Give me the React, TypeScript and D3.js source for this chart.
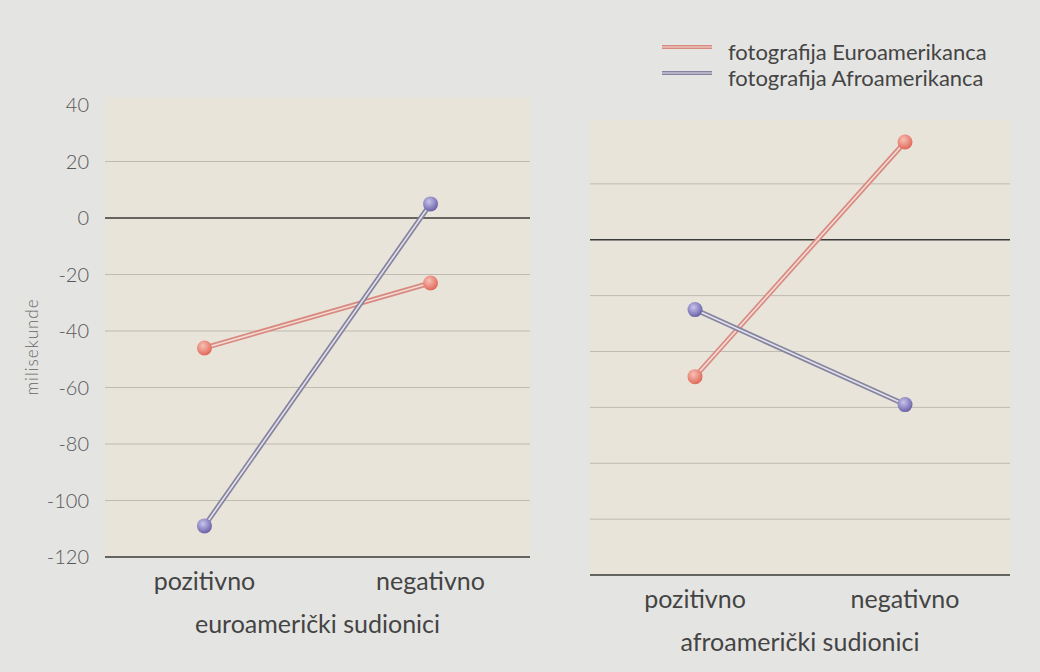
import * as d3 from "d3";

// Reakcijsko vrijeme (ms) po uvjetu
const categories = ["pozitivno", "negativno"];
const yTicks = [40, 20, 0, -20, -40, -60, -80, -100, -120];
const seriesNames = ["fotografija Euroamerikanca", "fotografija Afroamerikanca"];

// euroamerički sudionici
const euroEuroPhoto = [-46, -23];
const euroAfroPhoto = [-109, 5];
// afroamerički sudionici
const afroEuroPhoto = [-49, 35];
const afroAfroPhoto = [-25, -59];

const panelTitles = ["euroamerički sudionici", "afroamerički sudionici"];

const COLORS = {
  red: { outer: "#d88a80", inner: "#f3dcd6", ball: "#e0695a", light: "#f7c0b4" },
  blue: { outer: "#85839f", inner: "#e4e3ec", ball: "#6a62a6", light: "#c9c4ee" },
};

const FONT = "Lato, 'Open Sans', sans-serif";

type PanelProps = {
  x0: number;
  x1: number;
  yTop: number;
  yBottom: number;
  padding: number;
  red: number[];
  blue: number[];
  title: string;
  showAxis: boolean;
};

function Panel({ x0, x1, yTop, yBottom, padding, red, blue, title, showAxis }: PanelProps) {
  const x = d3.scalePoint<string>().domain(categories).range([x0, x1]).padding(padding);
  const y = d3.scaleLinear().domain([-120, 40]).range([yBottom, yTop]);
  const line = d3
    .line<number>()
    .x((_, i) => x(categories[i]) ?? 0)
    .y((d) => y(d));

  const series = [
    { vals: red, c: COLORS.red, g: "ball-red" },
    { vals: blue, c: COLORS.blue, g: "ball-blue" },
  ];

  return (
    <g>
      <rect x={x0} y={yTop - 8} width={x1 - x0} height={yBottom - yTop + 8} fill="#e9e4da" />
      {yTicks.map((t) => (
        <line
          key={t}
          x1={x0}
          x2={x1}
          y1={y(t)}
          y2={y(t)}
          stroke={t === 0 || t === -120 ? "#3a3a38" : t === 40 ? "none" : "#b9b5ab"}
          strokeWidth={t === 0 || t === -120 ? 1.4 : 0.9}
        />
      ))}
      {showAxis &&
        yTicks.map((t) => (
          <text
            key={"l" + t}
            x={x0 - 16}
            y={y(t) + 7}
            textAnchor="end"
            fontSize={20}
            fill="#585858"
            fontFamily={FONT}
            fontWeight={300}
          >
            {t}
          </text>
        ))}
      {series.map((s, i) => (
        <g key={i}>
          <path d={line(s.vals) || ""} fill="none" stroke={s.c.outer} strokeWidth={5} />
          <path d={line(s.vals) || ""} fill="none" stroke={s.c.inner} strokeWidth={1.6} />
        </g>
      ))}
      {series.map((s, i) =>
        s.vals.map((v, j) => (
          <circle
            key={i + "-" + j}
            cx={x(categories[j])}
            cy={y(v)}
            r={7.5}
            fill={`url(#${s.g})`}
          />
        ))
      )}
      {categories.map((c) => (
        <text
          key={c}
          x={x(c)}
          y={yBottom + 33}
          textAnchor="middle"
          fontSize={25}
          fill="#444"
          fontFamily={FONT}
        >
          {c}
        </text>
      ))}
      <text
        x={(x0 + x1) / 2}
        y={yBottom + 76}
        textAnchor="middle"
        fontSize={25}
        fill="#444"
        fontFamily={FONT}
      >
        {title}
      </text>
    </g>
  );
}

export default function App() {
  const legend = [
    { name: seriesNames[0], c: COLORS.red },
    { name: seriesNames[1], c: COLORS.blue },
  ];
  return (
    <svg
      width={1040}
      height={672}
      style={{ position: "fixed", left: 0, top: 0, background: "#e4e4e2" }}
    >
      <defs>
        <radialGradient id="ball-red" cx="0.4" cy="0.35" r="0.65">
          <stop offset="0%" stopColor={COLORS.red.light} />
          <stop offset="100%" stopColor={COLORS.red.ball} />
        </radialGradient>
        <radialGradient id="ball-blue" cx="0.4" cy="0.35" r="0.65">
          <stop offset="0%" stopColor={COLORS.blue.light} />
          <stop offset="100%" stopColor={COLORS.blue.ball} />
        </radialGradient>
      </defs>
      <rect width={1040} height={672} fill="#e4e4e2" />

      {legend.map((l, i) => (
        <g key={l.name} transform={`translate(0, ${i * 26})`}>
          <line x1={662} x2={712} y1={47} y2={47} stroke={l.c.outer} strokeWidth={4} />
          <line x1={662} x2={712} y1={47} y2={47} stroke={l.c.inner} strokeWidth={1.2} />
          <text x={728} y={60} fontSize={22} fill="#444" fontFamily={FONT}>
            {l.name}
          </text>
        </g>
      ))}

      <text
        transform="translate(38, 347) rotate(-90)"
        textAnchor="middle"
        fontSize={17}
        letterSpacing={1}
        fill="#666"
        fontFamily={FONT}
        fontWeight={300}
      >
        milisekunde
      </text>

      <Panel
        x0={105}
        x1={530}
        yTop={105}
        yBottom={557}
        padding={0.44}
        red={euroEuroPhoto}
        blue={euroAfroPhoto}
        title={panelTitles[0]}
        showAxis={true}
      />
      <Panel
        x0={590}
        x1={1010}
        yTop={128}
        yBottom={575}
        padding={0.5}
        red={afroEuroPhoto}
        blue={afroAfroPhoto}
        title={panelTitles[1]}
        showAxis={false}
      />
    </svg>
  );
}
